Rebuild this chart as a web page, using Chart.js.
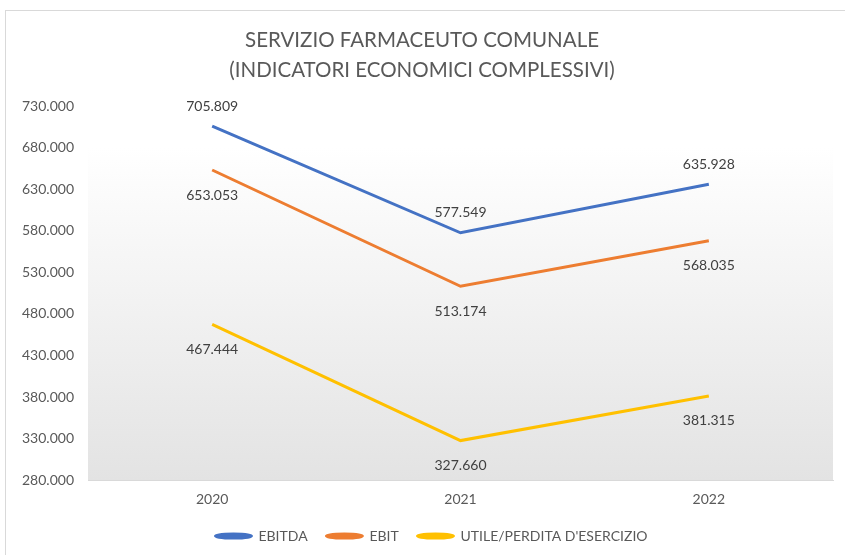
<!DOCTYPE html>
<html>
<head>
<meta charset="utf-8">
<script src="https://cdn.jsdelivr.net/npm/chart.js@4.4.1/dist/chart.umd.min.js"></script>
<style>
  html, body { margin: 0; padding: 0; background: #fff; }
  #frame { position: absolute; left: 5px; top: 10px; width: 860px; height: 560px; border: 1px solid #d9d9d9; }
  #myChart { position: absolute; left: 0; top: 0; }
</style>
</head>
<body>
<div id="frame"></div>
<canvas id="myChart" width="845" height="555"></canvas>
<script>
// data
var years = ['2020', '2021', '2022']
var ebitda = [705809, 577549, 635928]
var ebit = [653053, 513174, 568035]
var utile = [467444, 327660, 381315]
var titleLines = ['SERVIZIO FARMACEUTO COMUNALE', '(INDICATORI ECONOMICI COMPLESSIVI)']
var yMin = 280000, yMax = 730000, yStep = 50000

// where each series puts its value labels
var labelSide = ['above', 'below', 'below']

function fmt(v) {
  return String(Math.round(v)).replace(/\B(?=(\d{3})+(?!\d))/g, '.')
}

const FONT = 'Lato, "Open Sans", sans-serif'

// plot area background, white at top fading to light gray
const bgPlugin = {
  id: 'plotBg',
  beforeDraw(chart) {
    const a = chart.chartArea, c = chart.ctx
    const top = chart.scales.y.getPixelForValue(680000)
    const g = c.createLinearGradient(0, top, 0, a.bottom)
    g.addColorStop(0, '#ffffff')
    g.addColorStop(1, '#e3e3e3')
    c.save()
    c.fillStyle = g
    c.fillRect(a.left, top, a.right - a.left, a.bottom - top)
    c.restore()
  }
}

// nudge the legend to the right, like the original
const legendShift = {
  id: 'legendShift',
  afterLayout(chart) {
    chart.legend.left += 15
    chart.legend.right += 15
    chart.legend.top += 2
    chart.legend.bottom += 2
  }
}

// title drawn by hand so the plot area keeps its place
const titlePlugin = {
  id: 'bigTitle',
  afterDraw(chart) {
    const c = chart.ctx
    c.save()
    c.fillStyle = '#595959'
    c.font = '20.5px ' + FONT
    c.textAlign = 'center'
    c.textBaseline = 'middle'
    c.fillText(titleLines[0], 422, 40)
    c.fillText(titleLines[1], 422, 70)
    c.restore()
  }
}

// value labels at each point
const valuePlugin = {
  id: 'values',
  afterDatasetsDraw(chart) {
    const c = chart.ctx
    c.save()
    c.font = '14px ' + FONT
    c.fillStyle = '#404040'
    c.textAlign = 'center'
    c.textBaseline = 'middle'
    chart.data.datasets.forEach((ds, i) => {
      const meta = chart.getDatasetMeta(i)
      meta.data.forEach((pt, j) => {
        const dy = labelSide[i] == 'above' ? -20 : 25
        c.fillText(fmt(ds.data[j]), pt.x, pt.y + dy)
      })
    })
    c.restore()
  }
}

const ctx = document.getElementById('myChart')
const chart1 = new Chart(ctx, {
  type: 'line',
  data: {
    labels: years,
    datasets: [{
      label: 'EBITDA',
      data: ebitda,
      borderColor: '#4472C4',
      backgroundColor: '#4472C4',
      borderWidth: 3,
      pointRadius: 0,
      tension: 0
    }, {
      label: 'EBIT',
      data: ebit,
      borderColor: '#ED7D31',
      backgroundColor: '#ED7D31',
      borderWidth: 3,
      pointRadius: 0,
      tension: 0
    }, {
      label: "UTILE/PERDITA D'ESERCIZIO",
      data: utile,
      borderColor: '#FFC000',
      backgroundColor: '#FFC000',
      borderWidth: 3,
      pointRadius: 0,
      tension: 0
    }]
  },
  options: {
    responsive: false,
    animation: false,
    layout: { padding: { top: 106, right: 12, left: 0, bottom: 4 } },
    scales: {
      x: {
        offset: true,
        grid: { display: false, drawTicks: false },
        border: { display: true, color: '#d9d9d9', width: 1 },
        ticks: { color: '#595959', font: { family: FONT, size: 14 }, padding: 11 }
      },
      y: {
        min: yMin,
        max: yMax,
        afterFit(scale) { scale.width = 88 },
        grid: { display: false, drawTicks: false },
        border: { display: false },
        ticks: {
          stepSize: yStep,
          color: '#595959',
          font: { family: FONT, size: 14 },
          padding: 14,
          callback: (v) => fmt(v)
        }
      }
    },
    plugins: {
      title: { display: false },
      tooltip: { enabled: false },
      legend: {
        position: 'bottom',
        labels: {
          color: '#595959',
          font: { family: FONT, size: 14 },
          usePointStyle: true,
          pointStyleWidth: 36,
          boxHeight: 3,
          padding: 8,
          // extra room after each item, the original spaces them wider
          generateLabels(chart) {
            const items = Chart.defaults.plugins.legend.labels.generateLabels(chart)
            items.forEach((it, i) => {
              if (i < items.length - 1) it.text = it.text + '   '
            })
            return items
          }
        }
      }
    }
  },
  plugins: [bgPlugin, legendShift, titlePlugin, valuePlugin]
})
</script>
</body>
</html>
